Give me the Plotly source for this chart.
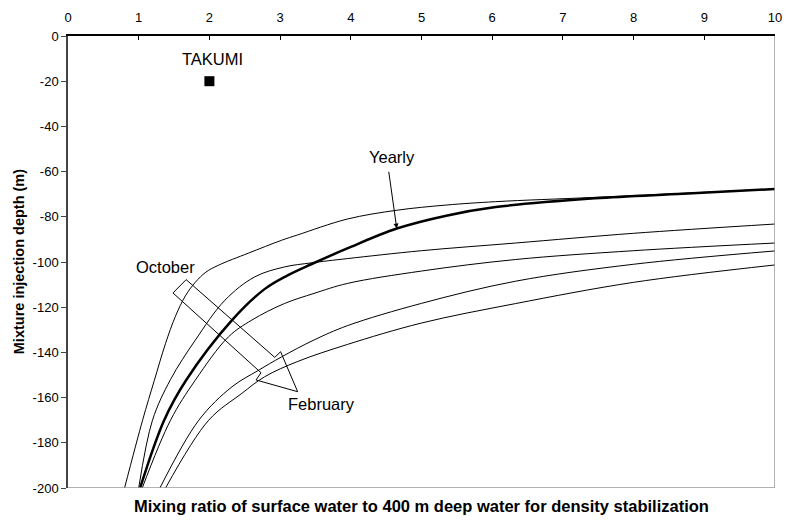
import plotly.graph_objects as go

# ---- data ----
oct_x = [0.80, 1.055, 1.22, 1.38, 1.52, 1.66, 1.80, 1.95, 2.13, 2.55, 3.02, 3.25, 3.95, 4.65, 5.35, 6.05, 7.45, 10]
oct_y = [-200, -170, -152.5, -136, -124, -115, -109, -104.5, -101.4, -96.1, -90.4, -88.0, -81.0, -77.1, -74.8, -73.3, -71.4, -67.7]

nov_x = [1.0, 1.195, 1.45, 1.80, 2.22, 2.64, 3.06, 3.44, 3.95, 5.0, 6.33, 8.0, 10]
nov_y = [-200, -170, -152, -134.6, -116.9, -106.6, -102.2, -100.4, -98.5, -95.0, -91.6, -87.3, -83.2]

yearly_x = [1.02, 1.36, 1.67, 2.32, 2.78, 3.1, 3.44, 3.95, 4.65, 5.35, 6.05, 7.45, 8.7, 10]
yearly_y = [-200, -170, -152.3, -125.7, -112, -106, -101, -94, -85.2, -79.5, -75.7, -71.8, -69.8, -67.7]

dec_x = [1.05, 1.45, 1.80, 2.27, 2.60, 3.06, 3.48, 3.95, 5.0, 6.33, 8.0, 10]
dec_y = [-200, -170, -152.3, -133.1, -125.7, -118.4, -113.9, -109.5, -104, -98.9, -95.0, -91.6]

jan_x = [1.30, 1.85, 2.32, 2.69, 3.02, 3.48, 3.95, 5.0, 6.33, 8.0, 10]
jan_y = [-200, -170, -155.2, -148.0, -142.0, -134.5, -128.2, -118.3, -108.5, -101, -95.1]

feb_x = [1.38, 1.99, 2.46, 2.78, 3.25, 3.95, 5.0, 6.33, 8.0, 10]
feb_y = [-200, -170, -158.1, -150.8, -144.0, -136.5, -127, -118.4, -109, -101.3]

takumi_x = [2.0]
takumi_y = [-20]

x_ticks = list(range(0, 11))
y_ticks = list(range(-200, 1, 20))

FONT = "Liberation Sans, Arial, Helvetica, sans-serif"

fig = go.Figure()
for xs, ys in [(oct_x, oct_y), (nov_x, nov_y), (dec_x, dec_y), (jan_x, jan_y), (feb_x, feb_y)]:
    fig.add_trace(go.Scatter(x=xs, y=ys, mode="lines", line=dict(color="black", width=1, shape="spline", smoothing=1.0),
                             showlegend=False, hoverinfo="skip"))
fig.add_trace(go.Scatter(x=yearly_x, y=yearly_y, mode="lines", line=dict(color="black", width=2.5, shape="spline", smoothing=1.0),
                         showlegend=False, hoverinfo="skip"))
fig.add_trace(go.Scatter(x=takumi_x, y=takumi_y, mode="markers", marker=dict(symbol="square", size=10, color="black"),
                         showlegend=False, hoverinfo="skip"))

# block arrow October -> February
arrow = [(1.671, -107.8), (2.924, -142.2), (3.007, -139.7), (3.249, -157.4), (2.66, -152.2), (2.73, -149.0), (1.485, -113.7)]
path = "M " + " L ".join(f"{x},{y}" for x, y in arrow) + " Z"
shapes = [
    dict(type="path", path=path, xref="x", yref="y", line=dict(color="black", width=1), fillcolor="rgba(0,0,0,0)"),
    dict(type="line", xref="x", yref="y", x0=0, x1=10, y0=-200, y1=-200, line=dict(color="#999999", width=1.5)),
    dict(type="line", xref="x", yref="y", x0=10, x1=10, y0=-200, y1=0, line=dict(color="#999999", width=1.5)),
]

ann_font = dict(size=16.5, color="black", family=FONT)
annotations = [
    dict(x=2.04, y=-10, xref="x", yref="y", text="TAKUMI", showarrow=False, font=ann_font),
    dict(x=1.38, y=-102, xref="x", yref="y", text="October", showarrow=False, font=ann_font),
    dict(x=3.58, y=-163, xref="x", yref="y", text="February", showarrow=False, font=ann_font),
    dict(x=4.58, y=-53.7, xref="x", yref="y", text="Yearly", showarrow=False, font=ann_font),
    dict(x=4.65, y=-85.2, ax=4.534, ay=-59.4, xref="x", yref="y", axref="x", ayref="y", text="",
         showarrow=True, arrowhead=2, arrowsize=1, arrowwidth=1, arrowcolor="black"),
    dict(x=0.5, y=-0.04, xref="paper", yref="paper", yanchor="middle",
         text="<b>Mixing ratio of surface water to 400 m deep water for density stabilization</b>",
         showarrow=False, font=dict(size=16.5, color="black", family=FONT)),
    dict(x=-0.069, y=0.5, xref="paper", yref="paper", xanchor="center", yanchor="middle", textangle=-90,
         text="<b>Mixture injection depth (m)</b>", showarrow=False, font=dict(size=14.5, color="black", family=FONT)),
]

fig.update_layout(
    width=792, height=527,
    margin=dict(l=68, r=10, t=36, b=39),
    paper_bgcolor="white", plot_bgcolor="white",
    font=dict(family=FONT, color="black", size=13),
    shapes=shapes, annotations=annotations,
    xaxis=dict(side="top", range=[0, 10], tickmode="array", tickvals=x_ticks, ticktext=[str(v) for v in x_ticks],
               ticks="inside", ticklen=4, tickcolor="black", showline=True, linecolor="black", linewidth=1.5,
               showgrid=False, zeroline=False, tickfont=dict(size=13), ticklabelstandoff=7),
    yaxis=dict(range=[-200, 0], tickmode="array", tickvals=y_ticks, ticktext=[str(v) for v in y_ticks],
               ticks="outside", ticklen=5, tickcolor="#444444", showline=True, linecolor="#444444", linewidth=1.5,
               showgrid=False, zeroline=False, tickfont=dict(size=13)),
)

fig.write_html("out.html")
